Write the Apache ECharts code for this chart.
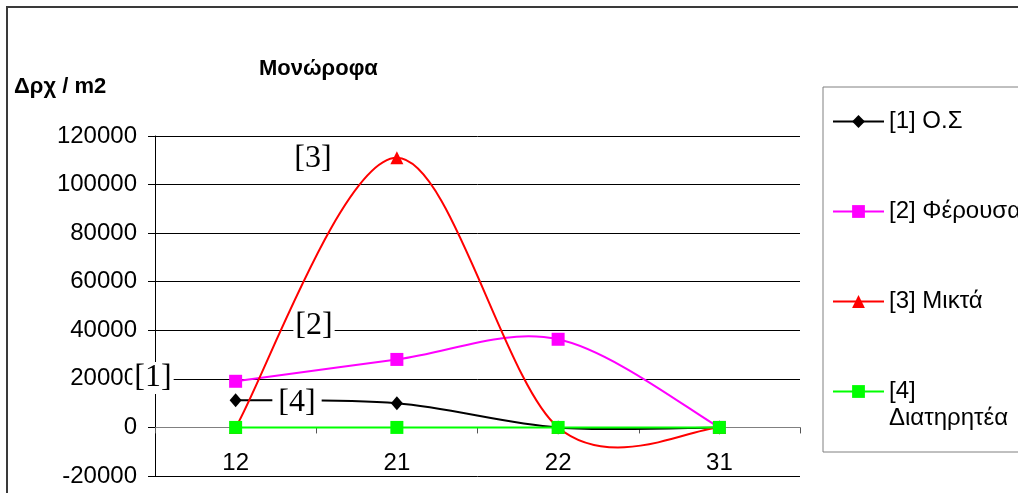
<!DOCTYPE html>
<html>
<head>
<meta charset="utf-8">
<script src="https://cdn.jsdelivr.net/npm/echarts@6/dist/echarts.min.js"></script>
<style>
  html, body { margin: 0; padding: 0; background: #fff; }
  #chart { width: 1018px; height: 493px; }
</style>
</head>
<body>
<div id="chart"></div>
<script>
// Building categories on the x axis
const categories = ['12', '21', '22', '31'];

// Series names (legend) and their values in Δρχ / m2
const seriesNames = ['[1] Ο.Σ', '[2] Φέρουσα', '[3] Μικτά', '[4]\nΔιατηρητέα'];
const valuesOS = [11200, 10000, 0, 0];
const valuesFerousa = [19000, 28000, 36300, 0];
const valuesMikta = [0, 111000, 0, 0];
const valuesDiatiritea = [0, 0, 0, 0];

// Value axis range
const yMin = -20000;
const yMax = 120000;
const yStep = 20000;

const FONT = '"Liberation Sans", Arial, sans-serif';
const SERIF = '"Liberation Serif", "Times New Roman", serif';

const seriesDefs = [
  { name: seriesNames[0], data: valuesOS, color: '#000000', symbol: 'diamond', size: [12, 14] },
  { name: seriesNames[1], data: valuesFerousa, color: '#FF00FF', symbol: 'rect', size: 13 },
  { name: seriesNames[2], data: valuesMikta, color: '#FF0000', symbol: 'triangle', size: 13 },
  { name: seriesNames[3], data: valuesDiatiritea, color: '#00FF00', symbol: 'rect', size: 13 }
];

// Smoothed curve through the points: cubic Bezier segments whose control
// points follow the neighbouring points (tangent = (next - prev) / 6).
function curveRenderer(values, color) {
  return function (params, api) {
    const i = params.dataIndex;
    const n = values.length;
    if (i >= n - 1) return null;
    const p = (k) => {
      const j = Math.max(0, Math.min(n - 1, k));
      return api.coord([j, values[j]]);
    };
    const p0 = p(i - 1), p1 = p(i), p2 = p(i + 1), p3 = p(i + 2);
    return {
      type: 'bezierCurve',
      shape: {
        x1: p1[0], y1: p1[1],
        cpx1: p1[0] + (p2[0] - p0[0]) / 6, cpy1: p1[1] + (p2[1] - p0[1]) / 6,
        cpx2: p2[0] - (p3[0] - p1[0]) / 6, cpy2: p2[1] - (p3[1] - p1[1]) / 6,
        x2: p2[0], y2: p2[1]
      },
      style: { stroke: color, lineWidth: 2, fill: null }
    };
  };
}

const series = [];
seriesDefs.forEach((d, k) => {
  // the curve
  series.push({
    type: 'custom',
    name: 'curve ' + k,
    z: 10 + k * 2,
    silent: true,
    data: d.data.map((v, i) => [i, v]),
    encode: { x: 0, y: 1 },
    renderItem: curveRenderer(d.data, d.color)
  });
  // the markers (line itself hidden; the curve above draws it)
  series.push({
    type: 'line',
    name: d.name,
    z: 11 + k * 2,
    silent: true,
    data: d.data,
    symbol: d.symbol,
    symbolSize: d.size,
    showSymbol: true,
    color: d.color,
    itemStyle: { color: d.color, borderWidth: 0 },
    lineStyle: { color: d.color, width: 2, opacity: 0 }
  });
});

const gridLineColors = [];
for (let v = yMin; v <= yMax; v += yStep) {
  gridLineColors.push(v === 0 ? 'rgba(0,0,0,0)' : '#000');
}

const annotation = (text, x, y, padX) => ({
  type: 'text', z: 200, x: x, y: y, silent: true,
  style: { text: text, font: '32px ' + SERIF, fill: '#000', align: 'center', verticalAlign: 'middle',
           backgroundColor: '#fff', padding: [0, padX] }
});

const legendText = { fontFamily: FONT, fontSize: 24, color: '#000', lineHeight: 27 };
const legendCommon = {
  orient: 'vertical',
  itemWidth: 51, itemHeight: 16, itemGap: 63,
  selectedMode: false,
  textStyle: legendText,
  lineStyle: { width: 2, opacity: 1 }
};

const chart = echarts.init(document.getElementById('chart'), null, { renderer: 'canvas' });
chart.setOption({
  animation: false,
  backgroundColor: '#fff',
  title: [
    { text: 'Μονώροφα', left: 259, top: 58, padding: 0,
      textStyle: { fontFamily: FONT, fontSize: 22, fontWeight: 'bold', color: '#000' } },
    { text: 'Δρχ / m2', left: 14, top: 76, padding: 0,
      textStyle: { fontFamily: FONT, fontSize: 22, fontWeight: 'bold', color: '#000' } }
  ],
  grid: { left: 155, right: 218, top: 136, bottom: 17, containLabel: false, outerBoundsMode: 'none' },
  xAxis: {
    type: 'category',
    data: categories,
    boundaryGap: true,
    axisLine: { onZero: true, lineStyle: { color: '#808080', width: 1 } },
    axisTick: { show: true, inside: false, length: 6, lineStyle: { color: '#555' } },
    axisLabel: { margin: -25, fontFamily: FONT, fontSize: 24, color: '#000' },
    splitLine: { show: false }
  },
  yAxis: {
    type: 'value',
    min: yMin, max: yMax, interval: yStep,
    axisLine: { show: true, lineStyle: { color: '#000', width: 1 } },
    axisTick: { show: true, inside: false, length: 7, lineStyle: { color: '#000' } },
    axisLabel: { margin: 18, fontFamily: FONT, fontSize: 24, color: '#000',
                 formatter: (v) => String(v) },
    splitLine: { show: true, lineStyle: { color: gridLineColors, width: 1 } }
  },
  legend: [
    Object.assign({}, legendCommon, {
      left: 823, top: 87, height: 400,
      padding: [21, 40, 137, 9],
      borderColor: '#808080', borderWidth: 1,
      data: seriesNames.slice(0, 3)
    }),
    // two-line entry: first line level with its icon
    Object.assign({}, legendCommon, {
      left: 832, top: 351, height: 120,
      padding: 0,
      formatter: (n) => '\n' + n,
      data: [seriesNames[3]]
    })
  ],
  series: series,
  graphic: [
    { type: 'rect', z: 200, silent: true,
      shape: { x: 7, y: 7, width: 1300, height: 700 },
      style: { fill: null, stroke: '#3a3a3a', lineWidth: 2 } },
    annotation('[3]', 313, 159, 2),
    annotation('[2]', 314, 326, 2),
    annotation('[1]', 153, 378, 2),
    annotation('[4]', 297, 403, 6)
  ]
});
</script>
</body>
</html>
